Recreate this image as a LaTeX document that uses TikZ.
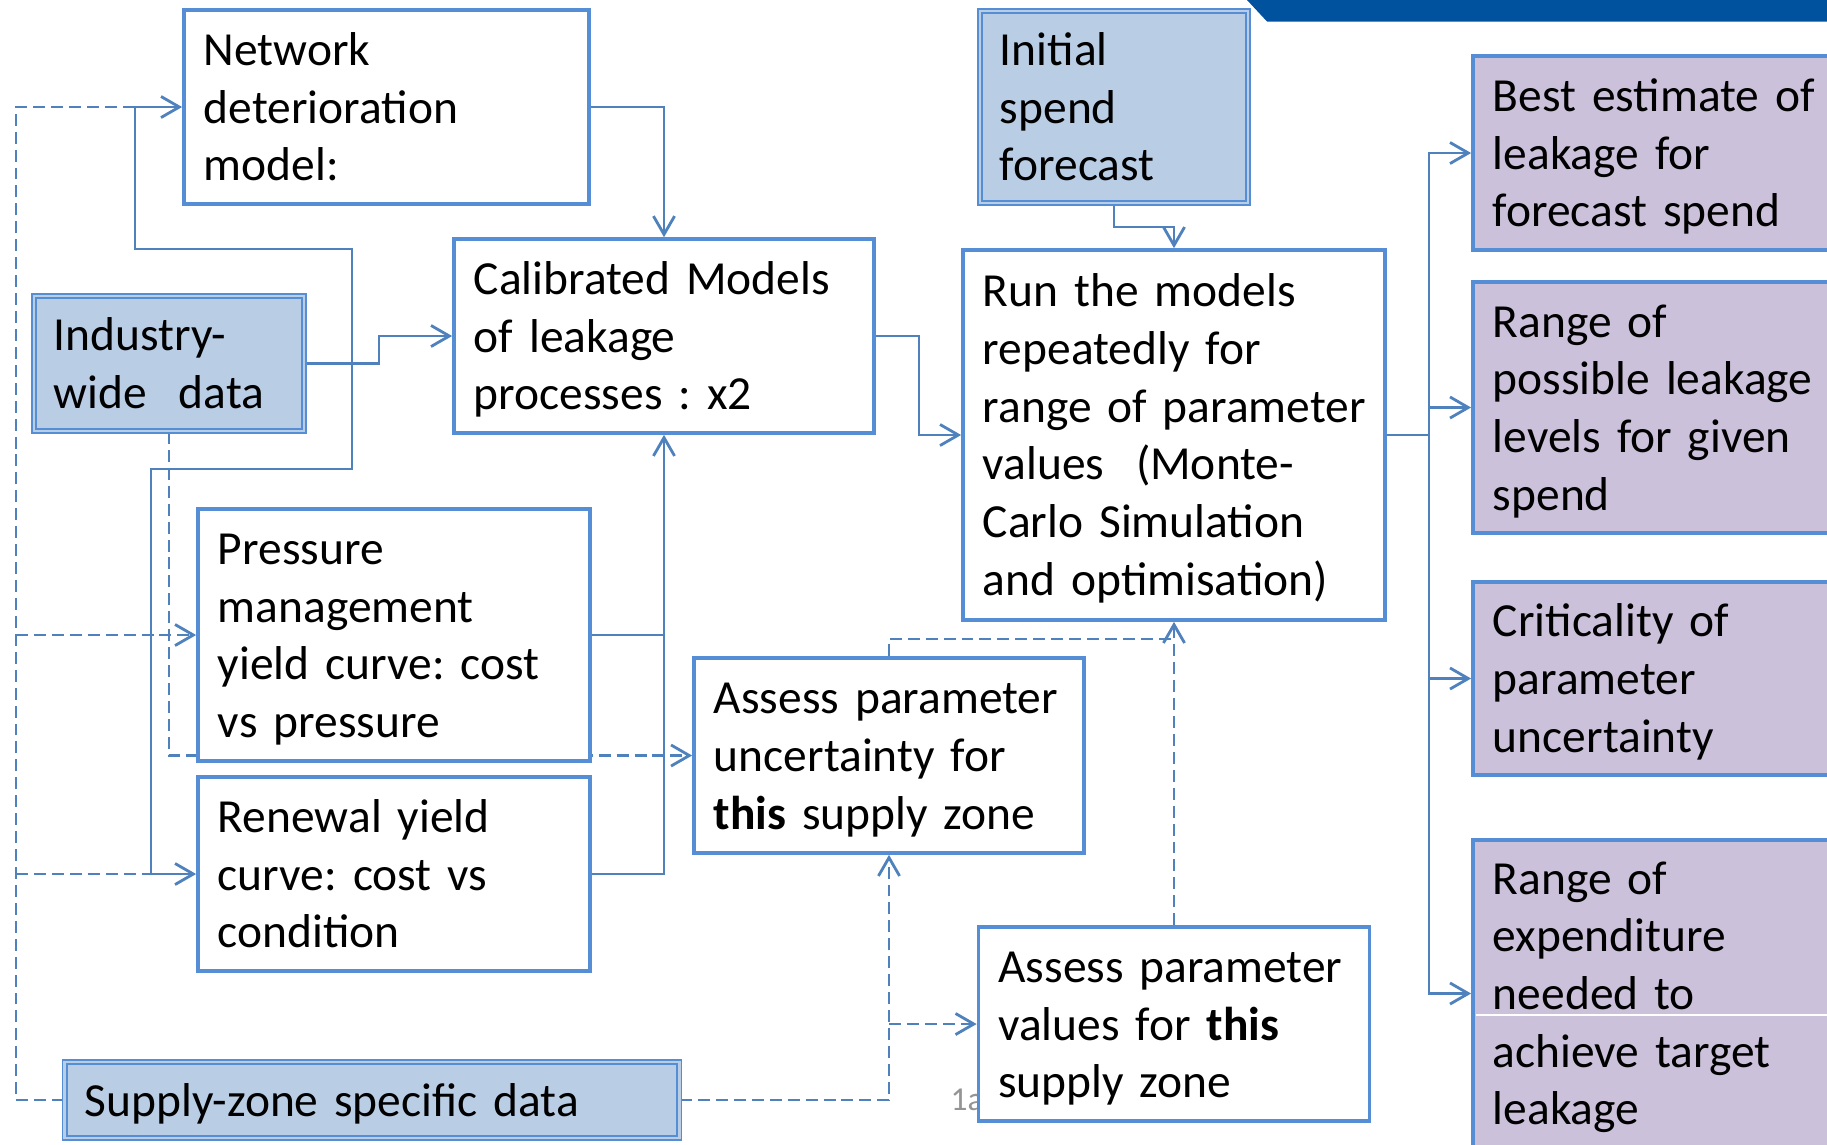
\documentclass[tikz,border=0pt]{standalone}
\usepackage{fontspec}
\setmainfont{Carlito}[WordSpace=0.78]
\usetikzlibrary{arrows.meta,backgrounds}
\definecolor{bord}{RGB}{85,142,213}
\definecolor{conncol}{RGB}{79,129,189}
\definecolor{lblue}{RGB}{185,205,229}
\definecolor{lpurple}{RGB}{204,193,218}
\definecolor{bannercol}{RGB}{0,82,158}
\newcommand{\boxlines}[1]{\raisebox{0pt}[\dimexpr\height+0.09cm\relax][\depth]{\begin{tabular}{@{}l@{}}#1\end{tabular}}}
\frenchspacing
\begin{document}
\begin{tikzpicture}[x=0.01cm,y=-0.01cm,
  txt/.style={font=\fontsize{13.5}{16.4}\selectfont\frenchspacing},
  base/.style={txt, inner xsep=0.2cm, inner ysep=0pt, align=left, anchor=center},
  whitebox/.style={base, draw=bord, line width=1pt, fill=white},
  databox/.style={base, draw=bord, line width=0.5pt, double=lblue, double distance=0.8pt, fill=lblue},
  outbox/.style={base, draw=bord, line width=1pt, fill=lpurple, minimum width=5cm, text width=4.6cm},
  conn/.style={draw=conncol, line width=0.8pt},
  dconn/.style={conn, dash pattern=on 3.4pt off 1.7pt},
  arr/.style={-{Straight Barb[length=5.2pt,width=6pt]}},
  biarr/.style={{Straight Barb[length=5.2pt,width=6pt]}-{Straight Barb[length=5.2pt,width=6pt]}},
]
\path[use as bounding box] (0,0) rectangle (1827,1144);
\clip (0,0) rectangle (1827,1144);

% banner
\fill[bannercol] (1247,0) -- (1900,0) -- (1900,21.5) -- (1267,21.5) -- cycle;

% nodes
\node[whitebox, minimum width=4.05cm, minimum height=1.94cm, text width=3.65cm] (net) at (386.5,107)
  {\boxlines{Network\\deterioration\\model:}};
\node[whitebox, minimum width=4.20cm, minimum height=1.94cm, text width=3.80cm] (cal) at (664,336)
  {\boxlines{Calibrated Models\\of leakage\\processes : x2}};
\node[databox, minimum width=2.70cm, minimum height=1.35cm, text width=2.30cm] (ind) at (169,363.5)
  {\boxlines{Industry-\\wide\ \ data}};
\node[whitebox, minimum width=3.92cm, minimum height=2.52cm, text width=3.52cm] (pres) at (394,635)
  {\boxlines{Pressure\\management\\yield curve: cost\\vs pressure}};
\node[whitebox, minimum width=3.92cm, minimum height=1.94cm, text width=3.52cm] (ren) at (394,874)
  {\boxlines{Renewal yield\\curve: cost vs\\condition}};
\node[databox, minimum width=6.14cm, minimum height=0.76cm, text width=5.74cm] (sup) at (372,1100)
  {\boxlines{Supply-zone specific data}};
\node[databox, minimum width=2.68cm, minimum height=1.92cm, text width=2.28cm] (ini) at (1114,107)
  {\boxlines{Initial\\spend\\forecast}};
\node[whitebox, minimum width=4.22cm, minimum height=3.70cm, text width=3.82cm] (run) at (1174,435)
  {\boxlines{Run the models\\repeatedly for\\range of parameter\\values\ \ (Monte-\\Carlo Simulation\\and optimisation)}};
\node[whitebox, minimum width=3.90cm, minimum height=1.95cm, text width=3.50cm] (asu) at (889,755.5)
  {\boxlines{Assess parameter\\uncertainty for\\\textbf{this} supply zone}};
\node[font=\fontsize{9.5}{11}\selectfont, text=black!42, anchor=base west, inner sep=0pt] (pg) at (950,1110) {1a};
\node[whitebox, minimum width=3.91cm, minimum height=1.94cm, text width=3.51cm] (asv) at (1174,1024)
  {\boxlines{Assess parameter\\values for \textbf{this}\\supply zone}};
\node[outbox, minimum height=1.94cm] (best) at (1723,153)
  {\boxlines{Best estimate of\\leakage for\\forecast spend}};
\node[outbox, minimum height=2.51cm] (rngp) at (1723,407.5)
  {\boxlines{Range of\\possible leakage\\levels for given\\spend}};
\node[outbox, minimum height=1.93cm] (crit) at (1723,678.5)
  {\boxlines{Criticality of\\parameter\\uncertainty}};
\node[outbox, minimum height=3.07cm] (rnge) at (1723,993.5)
  {\boxlines{Range of\\expenditure\\needed to\\achieve target\\leakage}};
\draw[white, line width=0.4pt] (1476,1015) -- (1900,1015);

% junction coordinates
\coordinate (lt) at (16,107);
\coordinate (lb) at (16,1100);
\coordinate (lp) at (16,635);
\coordinate (lr) at (16,874);
\coordinate (sn) at (135,107);
\coordinate (sr) at (151,874);
\coordinate (bus) at (1429,435);
\coordinate (zj) at (889,1100);
\coordinate (zv) at (889,1024);
\coordinate (uj) at (1174,639);

\begin{scope}[on background layer]
  % left dashed feed from supply-zone data
  \draw[dconn] (sup.west) -- (lb) -- (lt) -- (sn);
  \draw[dconn,arr] (lp) -- (pres.west);
  \draw[dconn] (lr) -- (sr);
  % solid line network <-> renewal
  \draw[conn,biarr] (net.west) -- (sn) -- (135,249) -- (352,249) -- (352,469) -- (151,469) -- (sr) -- (ren.west);
  % industry
  \draw[dconn,arr] (ind.south) -- (169,755.5) -- (asu.west);
  \draw[conn,arr] (ind.east) -- (379,363.5) -- (379,336) -- (cal.west);
  % into calibrated
  \draw[conn,arr] (net.east) -| (cal.north);
  \draw[conn] (pres.east) -- (664,635);
  \draw[conn,arr] (ren.east) -| (cal.south);
  % to run
  \draw[conn,arr] (cal.east) -- (919,336) -- (919,435) -- (run.west);
  \draw[conn,arr] (ini.south) -- (1114,227) -- (1174,227) -- (run.north);
  % outputs
  \draw[conn] (run.east) -- (bus);
  \draw[conn,arr] (bus) |- (best.west);
  \draw[conn,arr] (bus) |- (rngp.west);
  \draw[conn,arr] (bus) |- (crit.west);
  \draw[conn,arr] (bus) |- (rnge.west);
  % supply zone to assessments
  \draw[dconn,arr] (sup.east) -- (zj) -- (asu.south);
  \draw[dconn,arr] (zv) -- (asv.west);
  \draw[dconn] (asu.north) |- (uj);
  \draw[dconn,arr] (asv.north) -- (run.south);
\end{scope}
\end{tikzpicture}
\end{document}
